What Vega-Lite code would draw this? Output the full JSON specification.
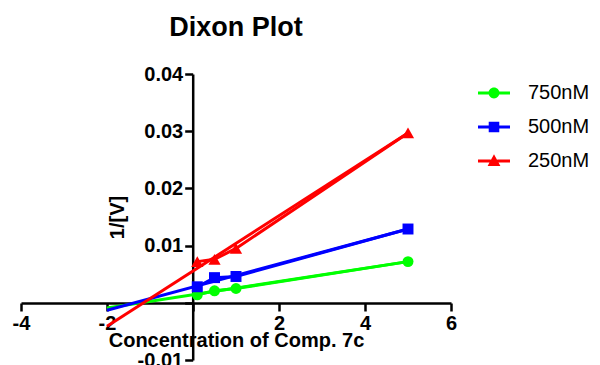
{
  "$schema": "https://vega.github.io/schema/vega-lite/v6.json",
  "width": 430,
  "height": 286,
  "autosize": {"type": "none"},
  "padding": {"left": 21, "top": 74, "right": 149, "bottom": 5},
  "background": "white",
  "config": {"view": {"stroke": null}, "font": "Liberation Sans"},
  "title": {
    "text": "Dixon Plot",
    "font": "Liberation Sans",
    "fontSize": 27,
    "fontWeight": "bold",
    "color": "black",
    "anchor": "middle",
    "frame": "group",
    "offset": 22
  },
  "datasets": {
    "points": [
      {"series": "750nM", "x": 0.1, "y": 0.0014},
      {"series": "750nM", "x": 0.5, "y": 0.0021},
      {"series": "750nM", "x": 1, "y": 0.0025},
      {"series": "750nM", "x": 5, "y": 0.0072},
      {"series": "500nM", "x": 0.1, "y": 0.0028},
      {"series": "500nM", "x": 0.5, "y": 0.0044},
      {"series": "500nM", "x": 1, "y": 0.0046},
      {"series": "500nM", "x": 5, "y": 0.0129},
      {"series": "250nM", "x": 0.1, "y": 0.0072},
      {"series": "250nM", "x": 0.5, "y": 0.0076},
      {"series": "250nM", "x": 1, "y": 0.0095},
      {"series": "250nM", "x": 5, "y": 0.0297}
    ],
    "fits": [
      {"series": "750nM", "x": -2, "y": -0.0009},
      {"series": "750nM", "x": 5, "y": 0.0072},
      {"series": "500nM", "x": -2, "y": -0.0013},
      {"series": "500nM", "x": 5, "y": 0.0129},
      {"series": "250nM", "x": -2, "y": -0.0041},
      {"series": "250nM", "x": 5, "y": 0.0297}
    ]
  },
  "encoding": {
    "x": {
      "field": "x",
      "type": "quantitative",
      "scale": {"domain": [-4, 6], "nice": false, "zero": false},
      "axis": {
        "title": "Concentration of Comp. 7c",
        "values": [-4, -2, 0, 2, 4, 6],
        "labelExpr": "datum.value == 0 ? '' : toString(datum.value)",
        "offset": -57,
        "grid": false,
        "domainColor": "black",
        "domainWidth": 2.5,
        "tickColor": "black",
        "tickWidth": 2.5,
        "tickSize": 8,
        "labelFont": "Liberation Sans",
        "labelFontSize": 20,
        "labelFontWeight": "bold",
        "labelColor": "black",
        "labelPadding": 2,
        "labelFlush": false,
        "labelOverlap": false,
        "titleFont": "Liberation Sans",
        "titleFontSize": 20,
        "titleFontWeight": "bold",
        "titleColor": "black",
        "titlePadding": -3
      }
    },
    "y": {
      "field": "y",
      "type": "quantitative",
      "scale": {"domain": [-0.01, 0.04], "nice": false, "zero": false},
      "axis": {
        "title": "1/[V]",
        "values": [-0.01, 0, 0.01, 0.02, 0.03, 0.04],
        "format": ".2f",
        "labelExpr": "datum.value == 0 ? '' : replace(datum.label, '−', '-')",
        "offset": -171.7,
        "grid": false,
        "domainColor": "black",
        "domainWidth": 2.5,
        "tickColor": "black",
        "tickWidth": 2.5,
        "tickSize": 8,
        "labelFont": "Liberation Sans",
        "labelFontSize": 20,
        "labelFontWeight": "bold",
        "labelColor": "black",
        "labelPadding": 2,
        "labelFlush": false,
        "labelOverlap": false,
        "titleFont": "Liberation Sans",
        "titleFontSize": 20,
        "titleFontWeight": "bold",
        "titleColor": "black",
        "titlePadding": 10
      }
    },
    "color": {
      "field": "series",
      "type": "nominal",
      "scale": {"domain": ["750nM", "500nM", "250nM"], "range": ["#00ff00", "#0000ff", "#ff0000"]},
      "legend": {
        "title": null,
        "orient": "none",
        "legendX": 457,
        "legendY": 3,
        "padding": 0,
        "symbolSize": 1024,
        "labelFont": "Liberation Sans",
        "labelFontSize": 20,
        "labelColor": "black",
        "labelOffset": 18,
        "rowPadding": 8,
        "encode": {
          "symbols": {
            "update": {
              "shape": {"signal": "datum.value === '750nM' ? 'M-1,-0.09H-0.2V0.09H-1Z M0.2,-0.09H1V0.09H0.2Z M-0.34,0A0.34,0.34 0 1,1 0.34,0A0.34,0.34 0 1,1 -0.34,0Z' : datum.value === '500nM' ? 'M-1,-0.09H-0.2V0.09H-1Z M0.2,-0.09H1V0.09H0.2Z M-0.33,-0.33H0.33V0.33H-0.33Z' : 'M-1,-0.09H-0.2V0.09H-1Z M0.2,-0.09H1V0.09H0.2Z M0,-0.42L0.4,0.32H-0.4Z'"},
              "fill": {"scale": "color", "field": "value"},
              "stroke": {"value": "transparent"},
              "strokeWidth": {"value": 0},
              "opacity": {"value": 1},
              "size": {"value": 1024}
            }
          }
        }
      }
    }
  },
  "layer": [
    {
      "data": {"name": "fits"},
      "mark": {"type": "line", "strokeWidth": 3}
    },
    {
      "data": {"name": "points"},
      "mark": {"type": "line", "strokeWidth": 3}
    },
    {
      "data": {"name": "points"},
      "transform": [{"filter": "datum.series === '750nM'"}],
      "mark": {"type": "point", "shape": "circle", "filled": true, "opacity": 1, "size": 120}
    },
    {
      "data": {"name": "points"},
      "transform": [{"filter": "datum.series === '500nM'"}],
      "mark": {"type": "point", "shape": "square", "filled": true, "opacity": 1, "size": 120}
    },
    {
      "data": {"name": "points"},
      "transform": [{"filter": "datum.series === '250nM'"}],
      "mark": {"type": "point", "shape": "triangle-up", "filled": true, "opacity": 1, "size": 150}
    }
  ]
}
